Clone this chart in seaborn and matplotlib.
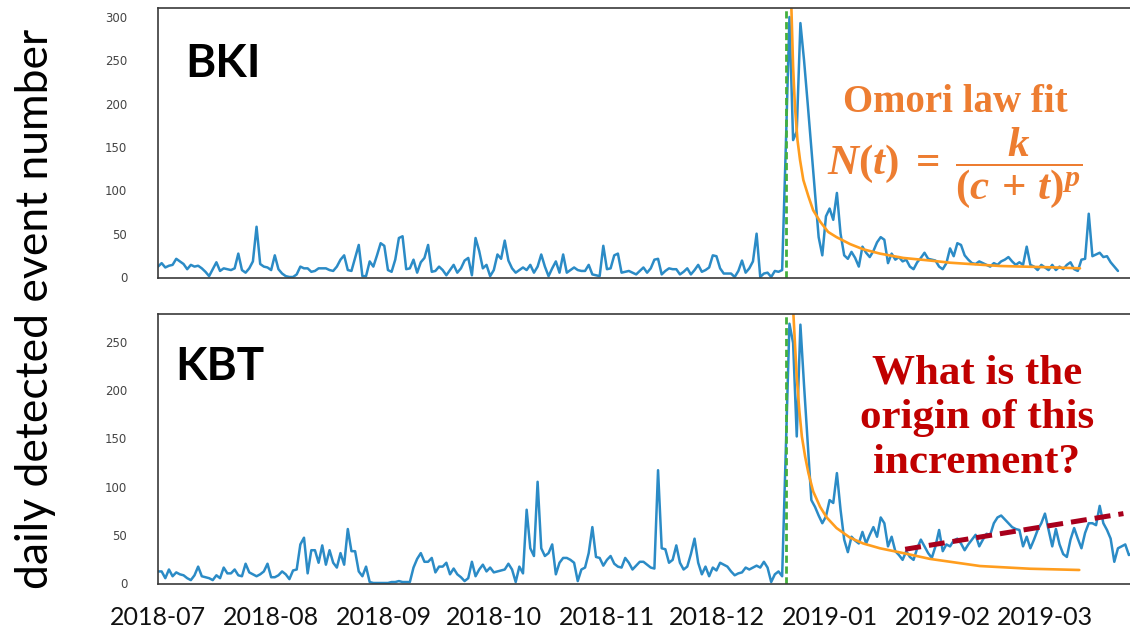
import numpy as np
import pandas as pd
import matplotlib
matplotlib.use("Agg")
import matplotlib.pyplot as plt
import matplotlib.dates as mdates
import seaborn as sns

# ==========================
# data, day 0 = 2018-07-01
# ==========================
start = pd.Timestamp("2018-07-01")
mainshock_day = 172

bki_counts = [
    12, 16, 11, 13, 14, 21, 18, 15, 9, 14,
    12, 13, 10, 6, 1, 9, 17, 7, 10, 9,
    8, 10, 27, 8, 5, 10, 18, 58, 15, 12,
    11, 8, 25, 9, 4, 1, 0, 0, 3, 12,
    10, 10, 6, 7, 10, 10, 10, 8, 7, 12,
    20, 25, 8, 7, 22, 37, 1, 1, 18, 12,
    25, 39, 36, 8, 6, 20, 45, 47, 9, 10,
    20, 5, 17, 22, 37, 6, 7, 12, 8, 2,
    8, 14, 5, 10, 19, 22, 2, 45, 30, 10,
    14, 1, 8, 26, 21, 42, 19, 10, 5, 8,
    11, 8, 14, 5, 12, 26, 12, 1, 10, 18,
    5, 26, 5, 8, 11, 8, 7, 7, 14, 3,
    2, 1, 36, 9, 10, 25, 27, 5, 6, 7,
    5, 3, 7, 11, 5, 10, 20, 21, 3, 7,
    10, 9, 9, 3, 6, 10, 3, 8, 14, 6,
    8, 11, 25, 24, 10, 4, 4, 4, 0, 7,
    19, 5, 10, 18, 50, 0, 4, 5, 0, 7,
    6, 8, 150, 300, 158, 168, 293, 250, 200, 148,
    97, 46, 25, 70, 79, 66, 97, 50, 25, 21,
    29, 22, 12, 35, 28, 23, 30, 40, 46, 43,
    16, 27, 20, 23, 18, 20, 12, 9, 17, 22,
    28, 21, 20, 19, 12, 9, 16, 33, 24, 39,
    37, 25, 20, 16, 15, 18, 16, 14, 12, 16,
    14, 18, 20, 23, 18, 14, 17, 14, 35, 14,
    12, 8, 14, 11, 8, 14, 8, 12, 9, 14,
    17, 9, 7, 20, 21, 73, 24, 26, 28, 23,
    24, 17, 12, 7,
]

kbt_counts = [
    12, 12, 5, 14, 7, 11, 9, 8, 5, 3,
    8, 17, 7, 6, 5, 3, 8, 5, 16, 10,
    10, 14, 8, 7, 20, 11, 9, 7, 9, 12,
    20, 6, 6, 8, 12, 9, 4, 13, 14, 40,
    47, 10, 34, 34, 21, 39, 19, 34, 21, 16,
    31, 19, 56, 33, 33, 12, 7, 17, 1, 0,
    0, 0, 0, 0, 1, 1, 2, 1, 1, 1,
    16, 25, 31, 22, 22, 26, 11, 17, 17, 21,
    9, 15, 9, 6, 2, 5, 22, 7, 14, 19,
    12, 16, 11, 12, 13, 14, 20, 14, 1, 17,
    10, 76, 36, 28, 105, 36, 28, 31, 40, 9,
    21, 26, 26, 24, 21, 2, 14, 16, 31, 58,
    27, 26, 18, 24, 28, 20, 17, 16, 26, 21,
    14, 18, 22, 22, 19, 16, 15, 117, 36, 35,
    21, 24, 39, 21, 14, 17, 30, 46, 21, 9,
    17, 7, 16, 13, 21, 19, 17, 12, 8, 10,
    11, 16, 14, 16, 18, 16, 22, 16, 1, 9,
    12, 7, 140, 269, 249, 152, 268, 205, 145, 86,
    79, 70, 62, 69, 86, 83, 114, 76, 45, 32,
    48, 44, 41, 53, 41, 50, 58, 48, 68, 62,
    38, 48, 33, 29, 24, 33, 27, 24, 36, 45,
    38, 31, 26, 38, 55, 33, 40, 38, 44, 46,
    41, 34, 40, 45, 50, 38, 45, 51, 50, 62,
    68, 70, 66, 62, 58, 56, 55, 38, 48, 36,
    45, 55, 62, 72, 55, 38, 56, 40, 30, 27,
    45, 57, 46, 36, 52, 62, 62, 60, 80, 62,
    55, 46, 22, 36, 38, 40, 29, 31,
]

# Omori fit curves (day, value)
bki_fit_days = [173.5, 174.0, 174.5, 175.2, 175.9, 176.8, 178.2, 179.5, 181.4, 183.6,
                185.9, 189.6, 193.2, 197.8, 204.2, 211.5, 217.0, 230.7, 244.4, 252.6]
bki_fit_vals = [315, 243, 197, 158, 135, 112, 93, 77, 64, 52,
                46, 38, 32, 27, 22, 19, 16.5, 12.7, 11.2, 10]

kbt_fit_days = [174.0, 174.5, 175.0, 175.7, 176.4, 177.3, 178.2, 179.5, 181.4, 183.2,
                185.9, 189.6, 193.2, 197.8, 204.2, 211.5, 225.2, 238.9, 252.4]
kbt_fit_vals = [285, 249, 214, 179, 152, 131, 114, 95, 79, 68,
                57, 47, 41, 36, 31, 25, 17.6, 14.8, 13.5]

# hand-drawn trend in lower panel
trend_days = [204.7, 264.5]
trend_vals = [35, 72]

stations = ["BKI", "KBT"]


def to_dates(days):
    return start + pd.to_timedelta(np.asarray(days, dtype=float), unit="D")


# ==========================
# style
# ==========================
sns.set_style("white")
plt.rcParams["font.family"] = ["Lato", "DejaVu Sans"]
plt.rcParams["mathtext.fontset"] = "custom"
plt.rcParams["mathtext.rm"] = "Liberation Serif:bold"
plt.rcParams["mathtext.it"] = "Liberation Serif:italic:bold"
plt.rcParams["mathtext.bf"] = "Liberation Serif:bold"

BLUE = "#2b8bc6"
ORANGE = "#ff9d1e"
GREEN = "#44b03c"
TEXT_ORANGE = "#ed7d31"
DARK_RED = "#c00000"
TREND_RED = "#a8001c"

W, H = 1130, 629
fig = plt.figure(figsize=(W / 100, H / 100), dpi=100)

px_per_day = 3.65
x_days = 268
left = 158 / W
width = x_days * px_per_day / W

ax1 = fig.add_axes([left, 1 - 278 / H, width, 270 / H])
ax2 = fig.add_axes([left, 1 - 584 / H, width, 270 / H])

panels = [
    (ax1, bki_counts, bki_fit_days, bki_fit_vals, (-1.15, 310.4), range(0, 301, 50)),
    (ax2, kbt_counts, kbt_fit_days, kbt_fit_vals, (-1.04, 279.05), range(0, 251, 50)),
]

for ax, counts, fdays, fvals, ylim, yticks in panels:
    df = pd.DataFrame({"date": to_dates(np.arange(len(counts))), "count": counts})
    sns.lineplot(data=df, x="date", y="count", ax=ax, color=BLUE,
                 linewidth=1.8, estimator=None)
    fit = pd.DataFrame({"date": to_dates(fdays), "count": fvals})
    sns.lineplot(data=fit, x="date", y="count", ax=ax, color=ORANGE,
                 linewidth=1.9, estimator=None)
    ax.axvline(to_dates([mainshock_day])[0], color=GREEN, linestyle=(0, (2.6, 1.3)),
               linewidth=2.0)

    ax.set_xlim(to_dates([0])[0], to_dates([x_days])[0])
    ax.set_ylim(*ylim)
    ax.set_yticks(list(yticks))
    ax.set_xlabel("")
    ax.set_ylabel("")
    ax.xaxis.set_major_locator(mdates.MonthLocator())
    ax.xaxis.set_major_formatter(mdates.DateFormatter("%Y-%m"))
    for s in ax.spines.values():
        s.set_color("#3a3a3a")
        s.set_linewidth(1.2)
    ax.tick_params(axis="y", direction="out", length=7.2, width=1.1, pad=15,
                   labelsize=8.5, colors="#3a3a3a")
    ax.tick_params(axis="x", direction="out", length=3, width=1.0, pad=13,
                   labelsize=18, colors="#3a3a3a")
    for lab in ax.get_yticklabels():
        lab.set_family(["DejaVu Sans"])
        lab.set_color("#444444")

ax1.tick_params(axis="x", labelbottom=False)
for lab in ax2.get_xticklabels():
    lab.set_color("#111111")

ax2.plot(to_dates(trend_days), trend_vals, color=TREND_RED, linewidth=3.6,
         linestyle=(0, (3.2, 1.6)), dash_capstyle="butt")

# ==========================
# texts
# ==========================
def fx(px):
    return px / W


def fy(py):
    return 1 - py / H


fig.text(fx(185), fy(77), stations[0], fontsize=33, fontweight="bold",
         ha="left", va="baseline", color="black")
fig.text(fx(175), fy(380), stations[1], fontsize=33, fontweight="bold",
         ha="left", va="baseline", color="black")

fig.text(fx(955), fy(112), "Omori law fit", family=["Liberation Serif"],
         fontweight="bold", fontsize=28, color=TEXT_ORANGE, ha="center", va="baseline")
fig.text(fx(955), fy(168), r"$N(t)\;=\;\dfrac{k}{(c\,+\,t)^{p}}$", fontsize=31,
         color=TEXT_ORANGE, ha="center", va="center")

for line, base in zip(["What is the", "origin of this", "increment?"], [383, 428, 473]):
    fig.text(fx(977), fy(base), line, family=["Liberation Serif"], fontweight="bold",
             fontsize=31, color=DARK_RED, ha="center", va="baseline")

fig.text(fx(36), fy(309), "daily detected event number", fontsize=32,
         rotation=90, ha="center", va="center", color="black")

fig.savefig("out.png", dpi=100)
